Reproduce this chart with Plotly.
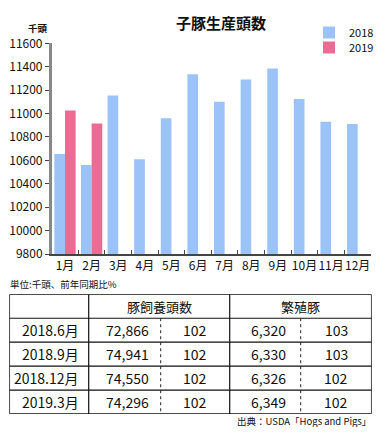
import plotly.graph_objects as go

FONT = "Noto Sans CJK JP"
# the page body has an 8px default margin; the figure is sized to fit the 382x435 window
OFF = 8
W, H = 382 - 2 * OFF, 435 - 2 * OFF

# ---------------- data ----------------
months = ["1月", "2月", "3月", "4月", "5月", "6月", "7月", "8月", "9月", "10月", "11月", "12月"]
pigs_2018 = [10655, 10560, 11155, 10610, 10960, 11335, 11100, 11290, 11385, 11125, 10930, 10910]
pigs_2019 = [11025, 10915, None, None, None, None, None, None, None, None, None, None]
y_ticks = [9800, 10000, 10200, 10400, 10600, 10800, 11000, 11200, 11400, 11600]

table_periods = ["2018.6月", "2018.9月", "2018.12月", "2019.3月"]
hog_inventory = ["72,866", "74,941", "74,550", "74,296"]
hog_yoy = ["102", "102", "102", "102"]
breeding = ["6,320", "6,330", "6,326", "6,349"]
breeding_yoy = ["103", "103", "102", "102"]
table_headers = ["豚飼養頭数", "繁殖豚"]

# ---------------- styling / layout constants ----------------
BLUE = "#9cc3f8"
PINK = "#eb6b94"

def px_x(p):
    return (p - OFF) / W

def px_y(p):
    return 1 - (p - OFF) / H

fig = go.Figure()
fig.add_trace(go.Bar(x=months, y=pigs_2018, name="2018", marker_color=BLUE,
                     marker_line_width=0, legend="legend", showlegend=True))
fig.add_trace(go.Bar(x=months, y=pigs_2019, name="2019", marker_color=PINK,
                     marker_line_width=0, legend="legend2", showlegend=True))

# ---------------- table (own axes: columns in x2 units, rows in y2 units) ----------------
COL_EDGES = [0, 79.4, 151.4, 220.4, 291.4, 362.4]
n_rows = len(table_periods) + 1  # header + data rows

shapes = []
shapes.append(dict(type="rect", xref="x2", yref="y2", x0=COL_EDGES[0], x1=COL_EDGES[-1],
                   y0=-0.5, y1=n_rows - 0.5, line=dict(color="#111", width=1.5),
                   fillcolor="rgba(0,0,0,0)", layer="above"))
for r in range(n_rows - 1):
    shapes.append(dict(type="line", xref="x2", yref="y2", x0=COL_EDGES[0], x1=COL_EDGES[-1],
                       y0=r + 0.5, y1=r + 0.5, line=dict(color="#111", width=1.2)))
for ci in (1, 3):
    shapes.append(dict(type="line", xref="x2", yref="y2", x0=COL_EDGES[ci], x1=COL_EDGES[ci],
                       y0=-0.5, y1=n_rows - 0.5, line=dict(color="#111", width=1.2)))
for ci in (2, 4):
    shapes.append(dict(type="line", xref="x2", yref="y2", x0=COL_EDGES[ci], x1=COL_EDGES[ci],
                       y0=0.5, y1=n_rows - 0.5, line=dict(color="#222", width=1, dash="dot")))

annotations = []
cell_font = dict(family=FONT, size=14, color="#111")
head_font = dict(family=FONT, size=13, color="#111")
annotations.append(dict(xref="x2", yref="y2", x=(COL_EDGES[1] + COL_EDGES[3]) / 2, y=0,
                        text=table_headers[0], showarrow=False, xanchor="center", yanchor="middle",
                        font=head_font))
annotations.append(dict(xref="x2", yref="y2", x=(COL_EDGES[3] + COL_EDGES[5]) / 2, y=0,
                        text=table_headers[1], showarrow=False, xanchor="center", yanchor="middle",
                        font=head_font))
for i in range(len(table_periods)):
    r = i + 1
    annotations.append(dict(xref="x2", yref="y2", x=COL_EDGES[1] - 8, y=r, text=table_periods[i],
                            showarrow=False, xanchor="right", yanchor="middle", font=cell_font))
    annotations.append(dict(xref="x2", yref="y2", x=COL_EDGES[2] - 10, y=r, text=hog_inventory[i],
                            showarrow=False, xanchor="right", yanchor="middle", font=cell_font))
    annotations.append(dict(xref="x2", yref="y2", x=(COL_EDGES[2] + COL_EDGES[3]) / 2, y=r,
                            text=hog_yoy[i], showarrow=False, xanchor="center", yanchor="middle",
                            font=cell_font))
    annotations.append(dict(xref="x2", yref="y2", x=COL_EDGES[4] - 13, y=r, text=breeding[i],
                            showarrow=False, xanchor="right", yanchor="middle", font=cell_font))
    annotations.append(dict(xref="x2", yref="y2", x=(COL_EDGES[4] + COL_EDGES[5]) / 2, y=r,
                            text=breeding_yoy[i], showarrow=False, xanchor="center",
                            yanchor="middle", font=cell_font))

annotations.append(dict(xref="paper", yref="paper", x=px_x(38), y=px_y(28.5), text="<b>千頭</b>",
                        showarrow=False, xanchor="center", yanchor="middle",
                        font=dict(family=FONT, size=9.5, color="#111")))
annotations.append(dict(xref="paper", yref="paper", x=px_x(8), y=px_y(284),
                        text="単位:千頭、前年同期比%",
                        showarrow=False, xanchor="left", yanchor="middle",
                        font=dict(family=FONT, size=9.5, color="#111")))
annotations.append(dict(xref="paper", yref="paper", x=px_x(372), y=px_y(420.5),
                        text="出典：USDA「Hogs and Pigs」", borderpad=0,
                        showarrow=False, xanchor="right", yanchor="middle",
                        font=dict(family=FONT, size=9.5, color="#111")))

legend_common = dict(xanchor="left", yanchor="middle", bgcolor="rgba(0,0,0,0)",
                     font=dict(family=FONT, size=11, color="#111"), borderwidth=0,
                     itemclick=False, itemdoubleclick=False, visible=True)

fig.update_layout(
    template="none",
    showlegend=True,
    width=W, height=H, autosize=False,
    margin=dict(l=0, r=0, t=0, b=0, pad=0, autoexpand=False),
    paper_bgcolor="white", plot_bgcolor="white",
    font=dict(family=FONT, size=12, color="#111"),
    barmode="group", bargap=0.2, bargroupgap=0.0,
    title=dict(text="子豚生産頭数", x=px_x(221), y=px_y(24), xanchor="center", yanchor="middle",
               xref="paper", yref="paper", automargin=False,
               font=dict(family=FONT, size=15, color="#111", weight="bold")),
    legend=dict(x=px_x(309), y=px_y(32.5), **legend_common),
    legend2=dict(x=px_x(309), y=px_y(47.5), **legend_common),
    xaxis=dict(domain=[px_x(51.7), px_x(371)], type="category", showgrid=False,
               showline=True, linecolor="#444", linewidth=2, automargin=False,
               ticks="inside", tickson="boundaries", ticklen=4, tickcolor="#444", tickwidth=1,
               tickangle=0,
               tickfont=dict(family=FONT, size=12, color="#111"), fixedrange=True),
    yaxis=dict(domain=[px_y(254), px_y(43.3)], range=[9800, 11600], tickvals=y_ticks,
               tickformat="d", showgrid=False, zeroline=False, automargin=False,
               showline=True, linecolor="#888", linewidth=2.5,
               ticks="outside", ticklen=4, tickcolor="#444", tickwidth=1,
               tickfont=dict(family=FONT, size=12, color="#111"), fixedrange=True),
    xaxis2=dict(domain=[px_x(9.3), px_x(371.7)], range=[COL_EDGES[0], COL_EDGES[-1]],
                anchor="y2", visible=False, fixedrange=True),
    yaxis2=dict(domain=[px_y(414), px_y(294.3)], range=[n_rows - 0.5, -0.5],
                anchor="x2", visible=False, fixedrange=True),
    shapes=shapes,
    annotations=annotations,
)

fig.write_html("out.html", config={"displayModeBar": False})
